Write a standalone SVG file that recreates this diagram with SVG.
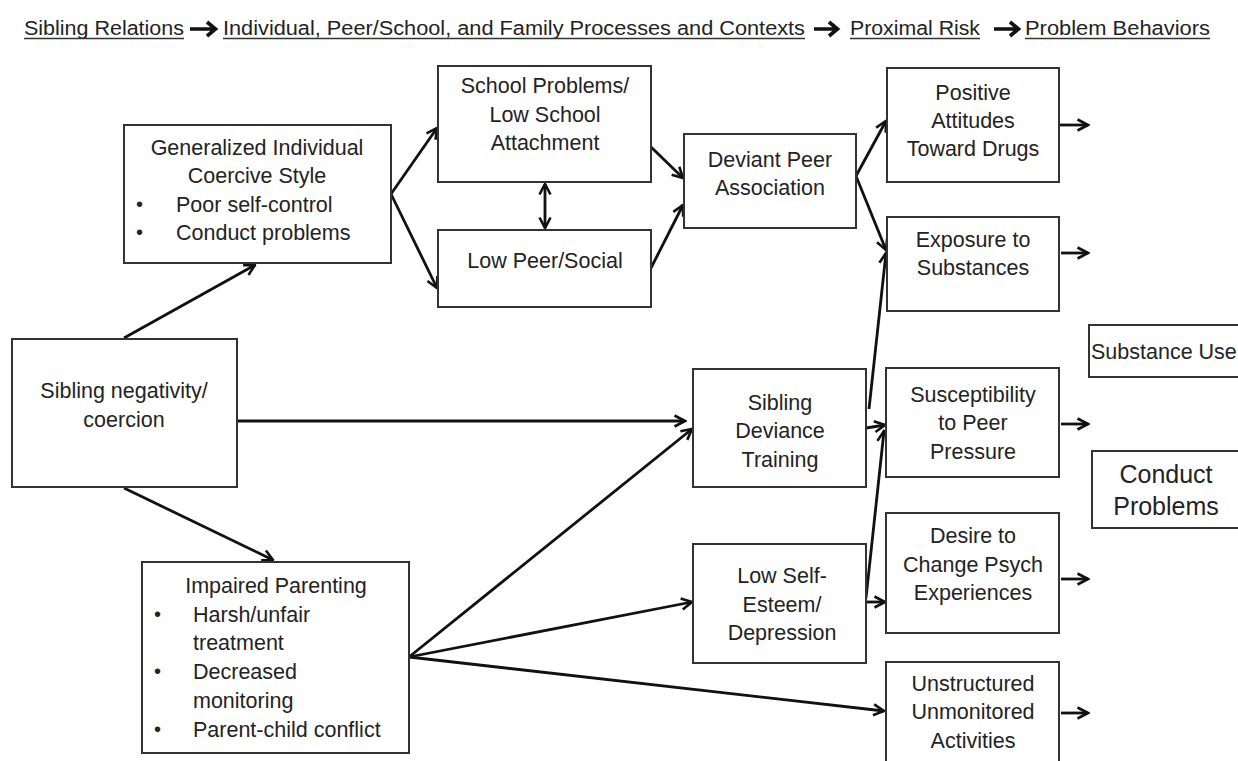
<svg xmlns="http://www.w3.org/2000/svg" width="1238" height="761" viewBox="0 0 1238 761">
  <defs>
    <style>
      .bg { fill: #ffffff; }
      .box rect { fill: #ffffff; stroke: #333333; stroke-width: 2; }
      .t { font-family: "Liberation Sans", Arial, sans-serif; font-size: 21.5px; fill: #232323; text-anchor: middle; }
      .l { text-anchor: start; }
      .dot { font-size: 20px; }
      .big { font-size: 25px; }
      .hd { font-family: "Liberation Sans", Arial, sans-serif; font-size: 20px; fill: #232323; }
      .ul { stroke: #333333; stroke-width: 1.4; }
      .ha { stroke: #111111; stroke-width: 3.6; fill: none; stroke-linejoin: miter; }
      #connectors line { stroke: #111111; stroke-width: 2.8; fill: none; marker-end: url(#ah); }
    </style>
    <marker id="ah" viewBox="0 0 14 14" refX="12.5" refY="7" markerWidth="14" markerHeight="14" markerUnits="userSpaceOnUse" orient="auto-start-reverse">
      <path d="M2,1.5 L12.5,7 L2,12.5" fill="none" stroke="#111111" stroke-width="2.6"/>
    </marker>
  </defs>

  <rect class="bg" x="0" y="0" width="1238" height="761"/>

  <!-- heading row: stages of the model -->
  <g id="heading">
    <text class="hd" x="24" y="35" textLength="160" lengthAdjust="spacingAndGlyphs">Sibling Relations</text>
    <line class="ul" x1="24" y1="38.5" x2="184" y2="38.5"/>
    <path class="ha" d="M190,29 L215,29 M207,22 L215.5,29 L207,36"/>
    <text class="hd" x="223" y="35" textLength="582" lengthAdjust="spacingAndGlyphs">Individual, Peer/School, and Family Processes and Contexts</text>
    <line class="ul" x1="223" y1="38.5" x2="805" y2="38.5"/>
    <path class="ha" d="M814,29 L837,29 M829,22 L837.5,29 L829,36"/>
    <text class="hd" x="850" y="35" textLength="130" lengthAdjust="spacingAndGlyphs">Proximal Risk</text>
    <line class="ul" x1="850" y1="38.5" x2="980" y2="38.5"/>
    <path class="ha" d="M994,29 L1018,29 M1010,22 L1018.5,29 L1010,36"/>
    <text class="hd" x="1025" y="35" textLength="185" lengthAdjust="spacingAndGlyphs">Problem Behaviors</text>
    <line class="ul" x1="1025" y1="38.5" x2="1210" y2="38.5"/>
  </g>

  <!-- connectors -->
  <g id="connectors">
    <line x1="124" y1="338" x2="255" y2="265"/>
    <line x1="124" y1="488" x2="273" y2="560"/>
    <line x1="238" y1="421" x2="685" y2="421"/>
    <line x1="391" y1="194" x2="437" y2="128"/>
    <line x1="391" y1="194" x2="437" y2="288"/>
    <line x1="545" y1="184" x2="545" y2="228" marker-start="url(#ah)"/>
    <line x1="651" y1="147" x2="683" y2="178"/>
    <line x1="651" y1="268" x2="683" y2="205"/>
    <line x1="856" y1="176" x2="886" y2="121"/>
    <line x1="856" y1="176" x2="886" y2="250"/>
    <line x1="869" y1="409" x2="886" y2="253"/>
    <line x1="866" y1="428" x2="885" y2="425"/>
    <line x1="866" y1="598" x2="884" y2="431"/>
    <line x1="866" y1="602" x2="885" y2="602"/>
    <line x1="409" y1="657" x2="692" y2="429"/>
    <line x1="409" y1="657" x2="692" y2="602"/>
    <line x1="409" y1="657" x2="884" y2="711"/>
    <line x1="1060" y1="125" x2="1088" y2="125"/>
    <line x1="1061" y1="253" x2="1088" y2="253"/>
    <line x1="1061" y1="424" x2="1088" y2="424"/>
    <line x1="1061" y1="579" x2="1088" y2="579"/>
    <line x1="1061" y1="713" x2="1088" y2="713"/>
  </g>

  <g id="sibling-negativity" class="box">
    <rect x="12" y="339" width="225" height="148"/>
    <text class="t" x="124" y="398">Sibling negativity/</text>
    <text class="t" x="124" y="427">coercion</text>
  </g>

  <g id="coercive-style" class="box">
    <rect x="124" y="125" width="267" height="138"/>
    <text class="t" x="257" y="155">Generalized Individual</text>
    <text class="t" x="257" y="183">Coercive Style</text>
    <text class="t l dot" x="136" y="211">•</text>
    <text class="t l" x="176" y="212">Poor self-control</text>
    <text class="t l dot" x="136" y="239">•</text>
    <text class="t l" x="176" y="240">Conduct problems</text>
  </g>

  <g id="school-problems" class="box">
    <rect x="438" y="66" width="213" height="116"/>
    <text class="t" x="545" y="93">School Problems/</text>
    <text class="t" x="545" y="122">Low School</text>
    <text class="t" x="545" y="150">Attachment</text>
  </g>

  <g id="low-peer" class="box">
    <rect x="438" y="230" width="213" height="77"/>
    <text class="t" x="545" y="268">Low Peer/Social</text>
  </g>

  <g id="deviant-peer" class="box">
    <rect x="684" y="134" width="172" height="94"/>
    <text class="t" x="770" y="167">Deviant Peer</text>
    <text class="t" x="770" y="195">Association</text>
  </g>

  <g id="positive-attitudes" class="box">
    <rect x="887" y="68" width="172" height="114"/>
    <text class="t" x="973" y="100">Positive</text>
    <text class="t" x="973" y="128">Attitudes</text>
    <text class="t" x="973" y="156">Toward Drugs</text>
  </g>

  <g id="exposure" class="box">
    <rect x="887" y="217" width="172" height="94"/>
    <text class="t" x="973" y="247">Exposure to</text>
    <text class="t" x="973" y="275">Substances</text>
  </g>

  <g id="substance-use" class="box">
    <rect x="1089" y="325" width="160" height="52"/>
    <text class="t l" x="1091" y="359">Substance Use</text>
  </g>

  <g id="sibling-deviance" class="box">
    <rect x="693" y="369" width="173" height="118"/>
    <text class="t" x="780" y="410">Sibling</text>
    <text class="t" x="780" y="438">Deviance</text>
    <text class="t" x="780" y="467">Training</text>
  </g>

  <g id="susceptibility" class="box">
    <rect x="886" y="368" width="173" height="109"/>
    <text class="t" x="973" y="402">Susceptibility</text>
    <text class="t" x="973" y="430">to Peer</text>
    <text class="t" x="973" y="459">Pressure</text>
  </g>

  <g id="conduct-problems" class="box">
    <rect x="1092" y="451" width="160" height="77"/>
    <text class="t big" x="1166" y="483">Conduct</text>
    <text class="t big" x="1166" y="515">Problems</text>
  </g>

  <g id="desire-change" class="box">
    <rect x="886" y="513" width="173" height="120"/>
    <text class="t" x="973" y="543">Desire to</text>
    <text class="t" x="973" y="572">Change Psych</text>
    <text class="t" x="973" y="600">Experiences</text>
  </g>

  <g id="low-self-esteem" class="box">
    <rect x="693" y="544" width="173" height="119"/>
    <text class="t" x="782" y="583">Low Self-</text>
    <text class="t" x="782" y="612">Esteem/</text>
    <text class="t" x="782" y="640">Depression</text>
  </g>

  <g id="impaired-parenting" class="box">
    <rect x="142" y="562" width="267" height="191"/>
    <text class="t" x="276" y="593">Impaired Parenting</text>
    <text class="t l dot" x="154" y="621">•</text>
    <text class="t l" x="193" y="622">Harsh/unfair</text>
    <text class="t l" x="193" y="650">treatment</text>
    <text class="t l dot" x="154" y="678">•</text>
    <text class="t l" x="193" y="679">Decreased</text>
    <text class="t l" x="193" y="708">monitoring</text>
    <text class="t l dot" x="154" y="736">•</text>
    <text class="t l" x="193" y="737">Parent-child conflict</text>
  </g>

  <g id="unstructured" class="box">
    <rect x="886" y="662" width="173" height="120"/>
    <text class="t" x="973" y="691">Unstructured</text>
    <text class="t" x="973" y="719">Unmonitored</text>
    <text class="t" x="973" y="748">Activities</text>
  </g>
</svg>
